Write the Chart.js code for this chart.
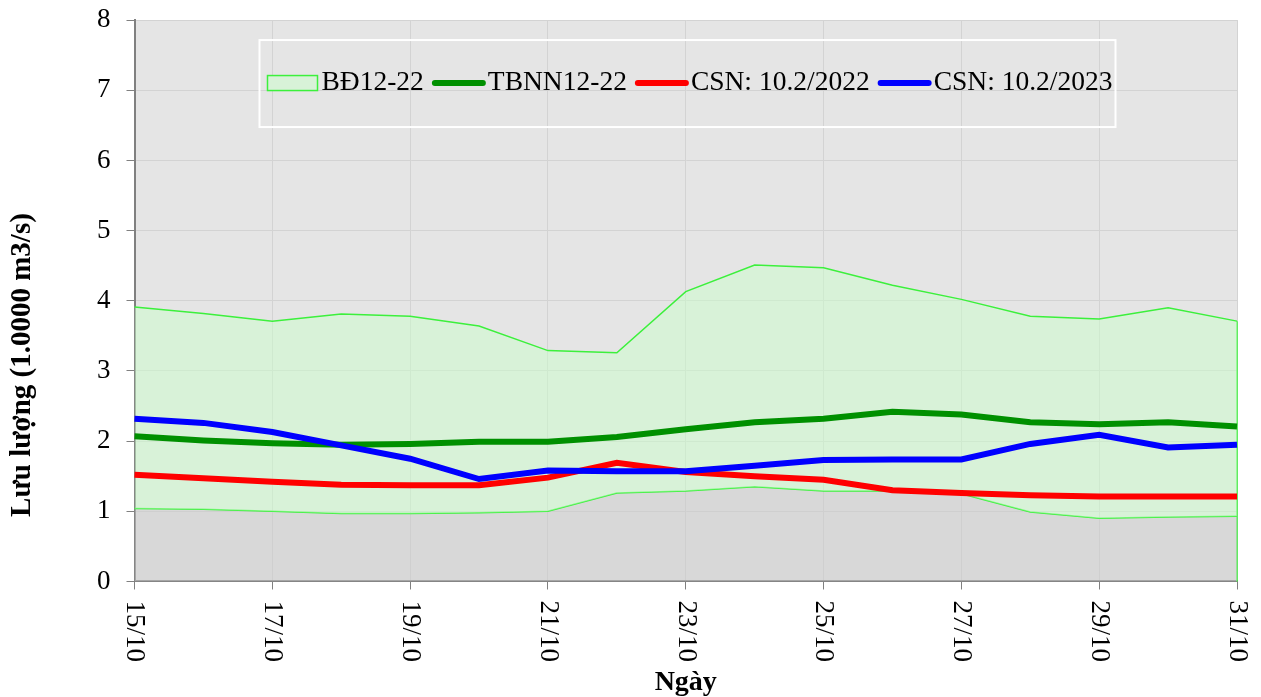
<!DOCTYPE html>
<html>
<head>
<meta charset="utf-8">
<script src="https://cdn.jsdelivr.net/npm/chart.js@4.4.1/dist/chart.umd.min.js"></script>
<style>
  html, body { margin: 0; padding: 0; background: #ffffff; }
  #wrap { width: 1261px; height: 697px; }
</style>
</head>
<body>
<div id="wrap"><canvas id="flowChart"></canvas></div>
<script>
// Days on the x axis
const days = ['15/10', '16/10', '17/10', '18/10', '19/10', '20/10', '21/10', '22/10', '23/10',
              '24/10', '25/10', '26/10', '27/10', '28/10', '29/10', '30/10', '31/10'];

// Range band (BĐ12-22): lower and upper edge
const bandLow  = [1.04, 1.03, 1.00, 0.97, 0.97, 0.98, 1.00, 1.26, 1.29, 1.35, 1.29, 1.29, 1.25, 0.99, 0.90, 0.92, 0.93];
const bandHigh = [3.91, 3.82, 3.71, 3.81, 3.78, 3.64, 3.29, 3.26, 4.13, 4.51, 4.47, 4.22, 4.02, 3.78, 3.74, 3.90, 3.71];

// Long-term mean and the two forecast series
const tbnn    = [2.07, 2.01, 1.97, 1.95, 1.96, 1.99, 1.99, 2.06, 2.17, 2.27, 2.32, 2.42, 2.38, 2.27, 2.24, 2.27, 2.21];
const csn2022 = [1.52, 1.47, 1.42, 1.38, 1.37, 1.37, 1.48, 1.69, 1.56, 1.50, 1.45, 1.30, 1.26, 1.23, 1.21, 1.21, 1.21];
const csn2023 = [2.32, 2.26, 2.13, 1.94, 1.75, 1.46, 1.58, 1.57, 1.57, 1.65, 1.73, 1.74, 1.74, 1.96, 2.09, 1.91, 1.95];

const yTicks = [0, 1, 2, 3, 4, 5, 6, 7, 8];
const yTitle = 'Lưu lượng (1.0000 m3/s)';

const serif = "'Times New Roman', 'Liberation Serif', serif";
const bandLine = '#3cf03c';
const bandFill = '#d8f2d8';

// plot area background
const plotBackground = {
    id: 'plotBackground',
    beforeDraw(chart) {
        const { ctx, chartArea } = chart;
        ctx.save();
        ctx.fillStyle = '#e5e5e5';
        ctx.fillRect(chartArea.left, chartArea.top, chartArea.right - chartArea.left, chartArea.bottom - chartArea.top);
        ctx.restore();
    },
    // closing edge of the band at the last day
    beforeDatasetsDraw(chart) {
        const { ctx } = chart;
        const x = chart.scales.x.getPixelForTick(days.length - 1);
        const y = chart.scales.y;
        ctx.save();
        ctx.strokeStyle = bandLine;
        ctx.lineWidth = 1.5;
        ctx.beginPath();
        ctx.moveTo(x, y.getPixelForValue(bandHigh[bandHigh.length - 1]));
        ctx.lineTo(x, y.getPixelForValue(0));
        ctx.stroke();
        ctx.restore();
    }
};

// x labels read top to bottom (every second day) and the y title, set lower than centre
const axisText = {
    id: 'axisText',
    afterDraw(chart) {
        const { ctx, chartArea } = chart;
        const xs = chart.scales.x;
        ctx.save();
        ctx.fillStyle = '#000000';
        ctx.font = '27px ' + serif;
        ctx.textAlign = 'left';
        ctx.textBaseline = 'middle';
        days.forEach((d, i) => {
            if (i % 2) return;
            ctx.save();
            ctx.translate(xs.getPixelForTick(i), chartArea.bottom + 19);
            ctx.rotate(Math.PI / 2);
            ctx.fillText(d, 0, 0);
            ctx.restore();
        });

        ctx.translate(chartArea.left - 112, chartArea.top + 345);
        ctx.rotate(-Math.PI / 2);
        ctx.font = 'bold 29px ' + serif;
        ctx.textAlign = 'center';
        ctx.fillText(yTitle, 0, 0);
        ctx.restore();
    }
};

// legend box inside the plot
const innerLegend = {
    id: 'innerLegend',
    afterDraw(chart) {
        const { ctx, chartArea } = chart;
        const left = chartArea.left + 125;
        const top = chartArea.top + 20;
        ctx.save();
        ctx.strokeStyle = '#ffffff';
        ctx.lineWidth = 2;
        ctx.strokeRect(left, top, 856, 87);

        const cy = top + 43;
        let x = left + 8;
        ctx.font = '27.5px ' + serif;
        ctx.textBaseline = 'middle';
        ctx.textAlign = 'left';
        chart.data.datasets.forEach(ds => {
            if (!ds.label) return;
            if (ds.fill === '-1') {
                ctx.fillStyle = bandFill;
                ctx.fillRect(x, cy - 7.5, 50, 15);
                ctx.strokeStyle = bandLine;
                ctx.lineWidth = 1.5;
                ctx.strokeRect(x, cy - 7.5, 50, 15);
                x += 54;
            } else {
                ctx.strokeStyle = ds.borderColor;
                ctx.lineWidth = 6;
                ctx.lineCap = 'round';
                ctx.beginPath();
                ctx.moveTo(x + 3, cy);
                ctx.lineTo(x + 51, cy);
                ctx.stroke();
                x += 56;
            }
            ctx.fillStyle = '#000000';
            ctx.fillText(ds.label, x, cy);
            x += ctx.measureText(ds.label).width + 8;
        });
        ctx.restore();
    }
};

const ctx = document.getElementById('flowChart').getContext('2d');
new Chart(ctx, {
    type: 'line',
    data: {
        labels: days,
        datasets: [
            {
                label: '',
                data: bandLow,
                borderColor: bandLine,
                borderWidth: 1.5,
                backgroundColor: 'rgba(203,203,203,0.5)',
                fill: 'origin',
                pointRadius: 0,
                tension: 0,
                order: 5
            },
            {
                label: 'BĐ12-22',
                data: bandHigh,
                borderColor: bandLine,
                borderWidth: 1.5,
                backgroundColor: 'rgba(203,255,203,0.5)',
                fill: '-1',
                pointRadius: 0,
                tension: 0,
                order: 4
            },
            {
                label: 'TBNN12-22',
                data: tbnn,
                borderColor: '#009000',
                borderWidth: 6,
                fill: false,
                pointRadius: 0,
                tension: 0,
                order: 3
            },
            {
                label: 'CSN: 10.2/2022',
                data: csn2022,
                borderColor: '#ff0000',
                borderWidth: 6,
                fill: false,
                pointRadius: 0,
                tension: 0,
                order: 2
            },
            {
                label: 'CSN: 10.2/2023',
                data: csn2023,
                borderColor: '#0000ff',
                borderWidth: 6,
                fill: false,
                pointRadius: 0,
                tension: 0,
                order: 1
            }
        ]
    },
    options: {
        responsive: true,
        maintainAspectRatio: false,
        animation: false,
        layout: {
            padding: { left: 4, right: 24, top: 20, bottom: 0 }
        },
        plugins: {
            legend: { display: false },
            tooltip: { enabled: false }
        },
        scales: {
            x: {
                offset: false,
                border: { color: '#808080', width: 2 },
                grid: {
                    color: c => (c.index % 2 === 0 ? '#d3d3d3' : 'transparent'),
                    tickColor: c => (c.index % 2 === 0 ? '#808080' : 'transparent'),
                    tickLength: 8,
                    lineWidth: 1
                },
                ticks: {
                    autoSkip: false,
                    minRotation: 90,
                    maxRotation: 90,
                    padding: 9,
                    color: 'transparent',
                    font: { family: serif, size: 27, lineHeight: 0.5 },
                    callback: (v, i) => (i % 2 === 0 ? days[i] : '')
                },
                title: {
                    display: true,
                    text: 'Ngày',
                    color: '#000000',
                    font: { family: serif, size: 28, weight: 'bold', lineHeight: 1 },
                    padding: { top: 0, bottom: 0 }
                }
            },
            y: {
                min: 0,
                max: 8,
                afterBuildTicks: axis => { axis.ticks = yTicks.map(v => ({ value: v })); },
                border: { color: '#808080', width: 2 },
                grid: {
                    color: '#d3d3d3',
                    tickColor: '#808080',
                    tickLength: 8,
                    lineWidth: 1
                },
                ticks: {
                    padding: 16,
                    color: '#000000',
                    font: { family: serif, size: 27, lineHeight: 0.3 }
                },
                title: {
                    display: true,
                    text: yTitle,
                    color: 'transparent',
                    font: { family: serif, size: 29, weight: 'bold', lineHeight: 1 },
                    padding: { top: 5, bottom: 43 }
                }
            }
        }
    },
    plugins: [plotBackground, axisText, innerLegend]
});
</script>
</body>
</html>
